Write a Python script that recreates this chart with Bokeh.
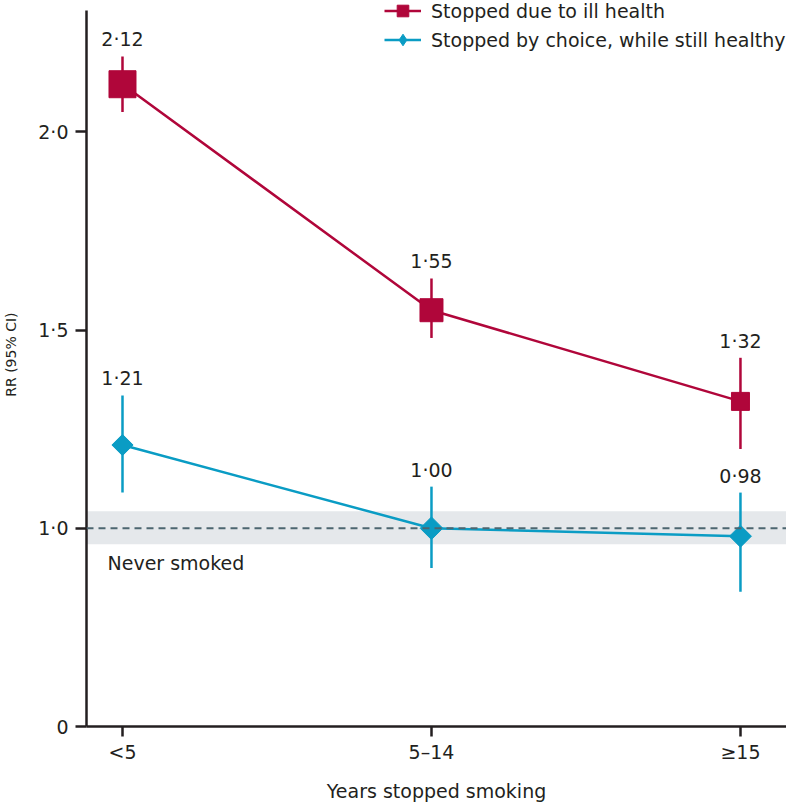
import math
from bokeh.plotting import figure
from bokeh.models import (Range1d, FixedTicker, Legend, LegendItem, BoxAnnotation,
                          Span, ColumnDataSource, LabelSet, Label)
from bokeh.core.properties import value
from bokeh.embed import file_html
from bokeh.resources import INLINE

# ---- data ----
categories = ["<5", "5–14", "≥15"]
ill_rr = [2.12, 1.55, 1.32]
ill_lo = [2.05, 1.48, 1.20]
ill_hi = [2.19, 1.63, 1.43]
ill_labels = ["2·12", "1·55", "1·32"]
choice_rr = [1.21, 1.00, 0.98]
choice_lo = [1.09, 0.90, 0.84]
choice_hi = [1.335, 1.105, 1.09]
choice_labels = ["1·21", "1·00", "0·98"]
never_rr = 1.0
never_lo = 0.96
never_hi = 1.043
y_ticks = [0.5, 1.0, 1.5, 2.0]          # 0 shown at the axis break
y_tick_labels = ["0", "1·0", "1·5", "2·0"]

# ---- styles ----
RED = "#b0063a"
CYAN = "#0a9cc4"
TXT = "#231f20"
FONT = "DejaVu Sans"
FS = "19px"
ill_sizes = [27, 23, 18]
choice_sizes = [15, 16, 15.5]

xs = list(range(len(categories)))

p = figure(width=786, height=804, output_backend="svg", toolbar_location=None,
           x_range=Range1d(-0.1165, 2.149), y_range=Range1d(0.5, 2.3312),
           min_border_left=86, min_border_right=0, min_border_top=0, min_border_bottom=77)
p.outline_line_color = None
p.grid.visible = False
p.background_fill_color = "white"

# axes
for ax in (p.xaxis[0], p.yaxis[0]):
    ax.axis_line_color = TXT
    ax.axis_line_width = 2.5
    ax.major_tick_line_color = TXT
    ax.major_tick_line_width = 2.5
    ax.minor_tick_line_color = None
    ax.major_tick_in = 0
    ax.major_label_text_font = FONT
    ax.major_label_text_font_size = FS
    ax.major_label_text_color = TXT
    ax.axis_label_text_font = FONT
    ax.axis_label_text_font_style = "normal"
    ax.axis_label_text_color = TXT
p.xaxis.ticker = FixedTicker(ticks=xs)
p.xaxis.major_label_overrides = {i: c for i, c in zip(xs, categories)}
p.xaxis.major_tick_out = 10
p.xaxis.major_label_standoff = 4
p.xaxis.axis_label = "Years stopped smoking"
p.xaxis.axis_label_text_font_size = FS
p.xaxis.axis_label_standoff = 14

p.yaxis.ticker = FixedTicker(ticks=y_ticks)
p.yaxis.major_label_overrides = {t: l for t, l in zip(y_ticks, y_tick_labels)}
p.yaxis.major_tick_out = 11
p.yaxis.major_label_standoff = 7
p.yaxis.bounds = (0.5, 2.305)
# leading no-break spaces lift the label a little above the frame centre
p.yaxis.axis_label = "\u00a0\u00a0\u00a0\u00a0RR (95% CI)"
p.yaxis.axis_label_text_font_size = "14px"
p.yaxis.axis_label_standoff = 16

# never smoked band
p.add_layout(BoxAnnotation(bottom=never_lo, top=never_hi, fill_color="#e5e8eb",
                           fill_alpha=1, line_color=None, level="underlay"))
p.add_layout(Span(location=never_rr, dimension="width", line_color="#4d6670",
                  line_width=2, line_dash="7 5"))
p.add_layout(Label(x=-0.0485, y=0.913, text="Never smoked", text_align="left",
                   text_baseline="middle", text_font=FONT, text_font_size=FS, text_color=TXT))

src_c = ColumnDataSource(dict(x=xs, rr=choice_rr, lo=choice_lo, hi=choice_hi,
                              lab=choice_labels, s=choice_sizes))
src_r = ColumnDataSource(dict(x=xs, rr=ill_rr, lo=ill_lo, hi=ill_hi,
                              lab=ill_labels, s=ill_sizes))

c_line = p.line("x", "rr", source=src_c, line_color=CYAN, line_width=2.5)
p.segment(x0="x", y0="lo", x1="x", y1="hi", source=src_c, line_color=CYAN, line_width=2.5)
c_mk = p.scatter("x", "rr", source=src_c, marker="square", size="s", angle=math.pi/4,
                 fill_color=CYAN, line_color=CYAN)

r_line = p.line("x", "rr", source=src_r, line_color=RED, line_width=2.5)
p.segment(x0="x", y0="lo", x1="x", y1="hi", source=src_r, line_color=RED, line_width=2.5)
r_mk = p.scatter("x", "rr", source=src_r, marker="square", size="s",
                 fill_color=RED, line_color=RED)

# legend-only marker renderers (a single undrawn NaN point each)
nan = float("nan")
r_leg = p.scatter(x=[nan], y=[nan], marker="square", size=12, fill_color=RED, line_color=RED)
c_leg = p.scatter(x=[nan], y=[nan], marker="diamond", size=12, fill_color=CYAN, line_color=CYAN)

for src in (src_c, src_r):
    p.add_layout(LabelSet(x="x", y="hi", text="lab", source=src, text_align="center",
                          text_baseline="alphabetic", y_offset=10, text_font=value(FONT),
                          text_font_size=value(FS), text_color=value(TXT)))

legend = Legend(items=[LegendItem(label="Stopped due to ill health", renderers=[r_line, r_leg]),
                       LegendItem(label="Stopped by choice, while still healthy", renderers=[c_line, c_leg])],
                location=(298, 672), margin=0, padding=0, spacing=0,
                glyph_width=37, glyph_height=29, label_standoff=10, label_height=20,
                label_text_font=FONT, label_text_font_size=FS, label_text_color=TXT,
                border_line_color=None, background_fill_alpha=0)
p.add_layout(legend)

open("out.html", "w").write(file_html(p, INLINE))
